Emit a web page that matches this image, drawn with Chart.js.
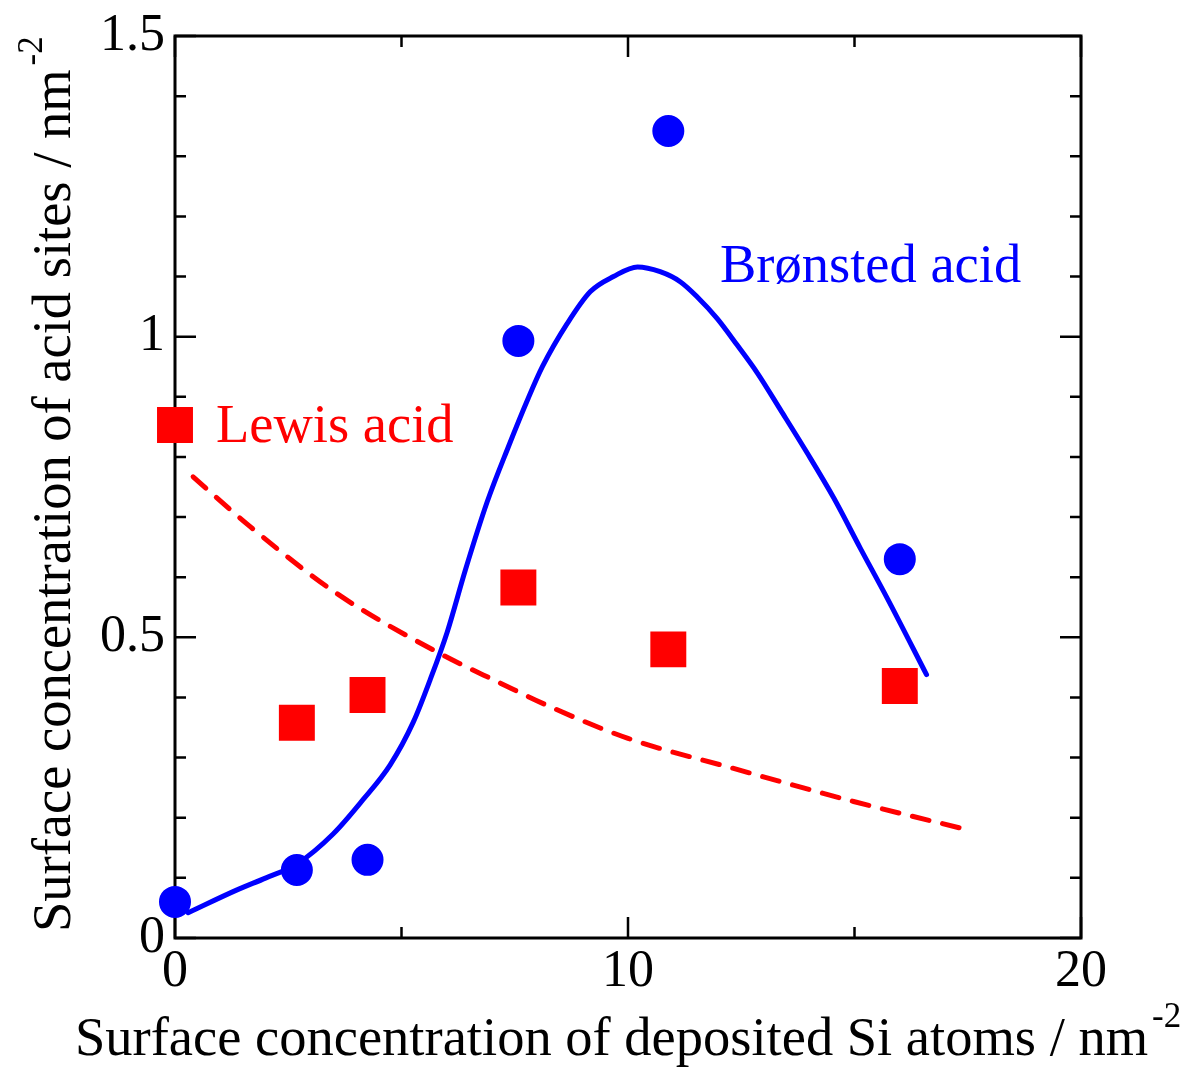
<!DOCTYPE html>
<html>
<head>
<meta charset="utf-8">
<script src="https://cdn.jsdelivr.net/npm/chart.js@4.4.1/dist/chart.umd.min.js"></script>
<style>
html,body{margin:0;padding:0;background:#fff;}
#wrap{position:relative;width:1197px;height:1073px;}
</style>
</head>
<body>
<div id="wrap"><canvas id="c" width="1197" height="1073"></canvas></div>
<script>
// ---- data ----
const xBronsted = [0, 2.69, 4.25, 7.58, 10.89, 16.0];
const yBronsted = [0.060, 0.113, 0.130, 0.993, 1.342, 0.630];
const xLewis = [0, 2.69, 4.25, 7.58, 10.89, 16.0];
const yLewis = [0.853, 0.358, 0.404, 0.583, 0.480, 0.419];

const xBronstedFit = [0.29, 1.37, 2.01, 2.69, 3.49, 4.15, 4.75, 5.26, 5.63, 6.01, 6.41, 6.89, 7.36, 7.80, 8.11, 8.66, 9.17, 9.68, 10.21, 10.71, 11.16, 11.53, 11.97, 12.41, 12.86, 13.36, 13.96, 14.54, 15.13, 15.73, 16.59];
const yBronstedFit = [0.042, 0.080, 0.100, 0.123, 0.173, 0.230, 0.288, 0.359, 0.429, 0.509, 0.612, 0.725, 0.817, 0.898, 0.950, 1.022, 1.075, 1.100, 1.116, 1.108, 1.091, 1.066, 1.030, 0.986, 0.939, 0.879, 0.806, 0.732, 0.648, 0.564, 0.438];
const xLewisFit = [0.4, 1.66, 3.57, 5.85, 7.18, 8.21, 10.0, 12.33, 14.98, 17.49];
const yLewisFit = [0.767, 0.684, 0.573, 0.473, 0.424, 0.387, 0.332, 0.282, 0.227, 0.180];

const xTickValues = [0, 10, 20];
const xTickLabels = ['0', '10', '20'];
const yTickValues = [0, 0.5, 1, 1.5];
const yTickLabels = ['0', '0.5', '1', '1.5'];
const xMinorTicks = [5, 15];
const yMinorTicks = [0.1,0.2,0.3,0.4,0.6,0.7,0.8,0.9,1.1,1.2,1.3,1.4];

const xTitle = 'Surface concentration of deposited Si atoms / nm';
const yTitle = 'Surface concentration of acid sites / nm';
const unitSup = '-2';
const lewisLabel = 'Lewis acid';
const bronstedLabel = 'Brønsted acid';

const FONT = '"Liberation Serif", "Times New Roman", serif';
const TXT = 54.5;
const zip = (xs, ys) => xs.map((x, i) => ({x: x, y: ys[i]}));

const framePlugin = {
  id: 'frame',
  beforeDatasetsDraw(chart) {
    const ctx = chart.ctx, a = chart.chartArea;
    const xs = chart.scales.x, ys = chart.scales.y;
    ctx.save();
    ctx.strokeStyle = '#000';
    ctx.lineWidth = 3;
    ctx.strokeRect(a.left, a.top, a.right - a.left, a.bottom - a.top);
    ctx.lineWidth = 2.5;
    ctx.beginPath();
    const major = 21, minor = 11;
    xTickValues.forEach(v => { const p = xs.getPixelForValue(v);
      ctx.moveTo(p, a.bottom); ctx.lineTo(p, a.bottom - major);
      ctx.moveTo(p, a.top); ctx.lineTo(p, a.top + major); });
    xMinorTicks.forEach(v => { const p = xs.getPixelForValue(v);
      ctx.moveTo(p, a.bottom); ctx.lineTo(p, a.bottom - minor);
      ctx.moveTo(p, a.top); ctx.lineTo(p, a.top + minor); });
    yTickValues.forEach(v => { const p = ys.getPixelForValue(v);
      ctx.moveTo(a.left, p); ctx.lineTo(a.left + major, p);
      ctx.moveTo(a.right, p); ctx.lineTo(a.right - major, p); });
    yMinorTicks.forEach(v => { const p = ys.getPixelForValue(v);
      ctx.moveTo(a.left, p); ctx.lineTo(a.left + minor, p);
      ctx.moveTo(a.right, p); ctx.lineTo(a.right - minor, p); });
    ctx.stroke();
    ctx.restore();
  },
  afterDraw(chart) {
    const ctx = chart.ctx;
    ctx.save();
    ctx.textBaseline = 'alphabetic';
    ctx.textAlign = 'left';
    // x title
    ctx.fillStyle = '#000';
    ctx.font = TXT + 'px ' + FONT;
    let w = ctx.measureText(xTitle).width;
    ctx.fillText(xTitle, 75, 1055);
    ctx.font = '35px ' + FONT;
    ctx.fillText(unitSup, 75 + w + 4, 1027);
    // y title (rotated)
    ctx.save();
    ctx.translate(70, 932);
    ctx.rotate(-Math.PI / 2);
    ctx.font = TXT + 'px ' + FONT;
    w = ctx.measureText(yTitle).width;
    ctx.fillText(yTitle, 0, 0);
    ctx.font = '35px ' + FONT;
    ctx.fillText(unitSup, w + 4, -28);
    ctx.restore();
    // annotations
    ctx.font = TXT + 'px ' + FONT;
    ctx.fillStyle = '#ff0000';
    ctx.fillText(lewisLabel, 216, 442);
    ctx.fillStyle = '#0000ff';
    ctx.fillText(bronstedLabel, 720, 282);
    ctx.restore();
  }
};

new Chart(document.getElementById('c'), {
  type: 'scatter',
  data: {
    datasets: [
      { label: 'Brønsted acid', data: zip(xBronsted, yBronsted),
        pointStyle: 'circle', pointRadius: 15, borderWidth: 2,
        backgroundColor: '#0000ff', borderColor: '#0000ff', clip: false },
      { label: 'Lewis acid', data: zip(xLewis, yLewis),
        pointStyle: 'rect', pointRadius: 24, borderWidth: 2,
        backgroundColor: '#ff0000', borderColor: '#ff0000', clip: false },
      { type: 'line', label: 'Brønsted fit', data: zip(xBronstedFit, yBronstedFit),
        pointRadius: 0, borderColor: '#0000ff', borderWidth: 5, fill: false,
        cubicInterpolationMode: 'monotone', borderCapStyle: 'round',
        borderJoinStyle: 'round', clip: false },
      { type: 'line', label: 'Lewis fit', data: zip(xLewisFit, yLewisFit),
        pointRadius: 0, borderColor: '#ff0000', borderWidth: 5, fill: false,
        borderDash: [17, 14], borderCapStyle: 'round',
        cubicInterpolationMode: 'monotone', clip: false }
    ]
  },
  options: {
    responsive: false,
    animation: false,
    events: [],
    layout: { padding: { left: 0, top: 36, right: 116, bottom: 0 } },
    plugins: { legend: { display: false }, tooltip: { enabled: false } },
    scales: {
      x: {
        type: 'linear', min: 0, max: 20,
        grid: { display: false }, border: { display: false },
        afterBuildTicks: s => { s.ticks = xTickValues.map(v => ({value: v})); },
        afterFit: s => { s.height = 1073 - 938; },
        ticks: { color: '#000', padding: 0, maxRotation: 0, autoSkip: false,
          font: { family: FONT, size: 52, lineHeight: 1.0 },
          callback: (v) => xTickLabels[xTickValues.indexOf(v)] }
      },
      y: {
        type: 'linear', min: 0, max: 1.5,
        grid: { display: false }, border: { display: false },
        afterBuildTicks: s => { s.ticks = yTickValues.map(v => ({value: v})); },
        afterFit: s => { s.width = 175; },
        ticks: { color: '#000', padding: 2, autoSkip: false,
          font: { family: FONT, size: 52, lineHeight: 1.0 },
          callback: (v) => yTickLabels[yTickValues.indexOf(v)] }
      }
    }
  },
  plugins: [framePlugin]
});
</script>
</body>
</html>
